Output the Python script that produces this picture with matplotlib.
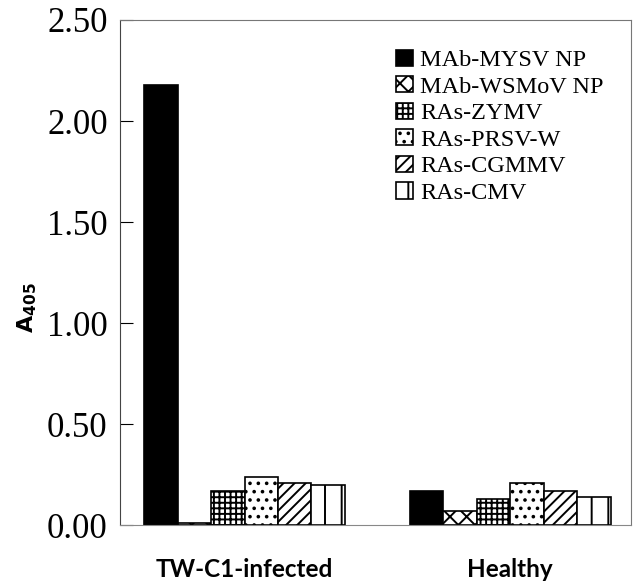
import numpy as np
import matplotlib
matplotlib.use('Agg')
import matplotlib.pyplot as plt

# data
groups = ['TW-C1-infected', 'Healthy']
series = ['MAb-MYSV NP', 'MAb-WSMoV NP', 'RAs-ZYMV', 'RAs-PRSV-W', 'RAs-CGMMV', 'RAs-CMV']
infected = [2.18, 0.01, 0.17, 0.24, 0.21, 0.20]
healthy = [0.17, 0.07, 0.13, 0.21, 0.17, 0.14]
yticks = [0.0, 0.5, 1.0, 1.5, 2.0, 2.5]

faces = ['black', 'white', 'white', 'white', 'white', 'white']
hatches = [None, 'xx', '+++', '..', '///', '|']

plt.rcParams['hatch.linewidth'] = 1.4

fig = plt.figure(figsize=(6.39, 5.88), dpi=100)
ax = fig.add_axes([0.188, 0.107, 0.799, 0.859])

x = np.arange(len(groups))
w = 0.126
vals = np.array([infected, healthy])
for i, name in enumerate(series):
    ax.bar(x + (i - 2.5) * w, vals[:, i], w, color=faces[i], edgecolor='black',
           hatch=hatches[i], linewidth=1.2, label=name)

ax.set_xlim(-0.468, 1.453)
ax.set_ylim(0, 2.5)
ax.set_yticks(yticks)
ax.set_yticklabels(['%.2f' % v for v in yticks], family='Liberation Serif', fontsize=25)
ax.tick_params(axis='y', direction='in', length=9, width=0.8, pad=9)
ax.set_xticks(x)
ax.set_xticklabels(groups, family='Lato', fontweight='bold', fontsize=17.5)
ax.tick_params(axis='x', length=0, pad=24)

for s in ['top', 'right']:
    ax.spines[s].set_color('#777777')
    ax.spines[s].set_linewidth(0.8)
ax.spines['bottom'].set_color('#888888')
ax.spines['left'].set_color('#444444')
ax.spines['left'].set_linewidth(0.8)

ax.set_ylabel(r'$\mathbf{A_{405}}$', fontsize=16)
ax.yaxis.set_label_coords(-0.158, 0.43)

ax.legend(loc='upper right', bbox_to_anchor=(0.975, 0.97), frameon=False,
          prop={'family': 'Liberation Serif', 'size': 17.5},
          handlelength=0.7, handleheight=0.65, handletextpad=0.3,
          labelspacing=0.2, borderaxespad=0.2)

fig.savefig('out.png', dpi=100)
